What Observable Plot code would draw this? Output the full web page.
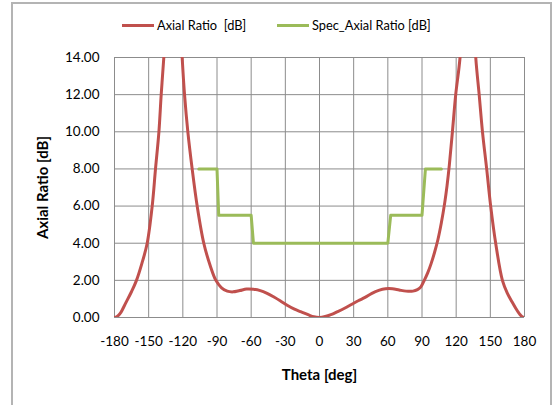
<!DOCTYPE html>
<html><head><meta charset="utf-8">
<script src="https://cdn.jsdelivr.net/npm/d3@7"></script>
<script src="https://cdn.jsdelivr.net/npm/@observablehq/plot@0.6"></script>
<style>
body{margin:0;background:#fff;font-family:Lato,"Open Sans",sans-serif;}
#wrap{position:relative;width:554px;height:405px;overflow:hidden;}
#frame{position:absolute;left:11px;top:2px;width:541px;height:420px;border:2px solid #b4b4b4;box-sizing:border-box;pointer-events:none;}
.leg{position:absolute;top:17px;display:flex;align-items:center;font-size:12.8px;color:#000;white-space:nowrap;}
.sw{display:inline-block;width:32px;height:3px;margin-right:3px;}
</style></head>
<body>
<div id="wrap">
<div id="chart"></div>
<div id="frame"></div>
<div id="leg1" class="leg" style="left:122px"><span class="sw" style="background:#C0504D"></span><span>Axial Ratio&nbsp; [dB]</span></div>
<div id="leg2" class="leg" style="left:277px"><span class="sw" style="background:#9BBB59"></span><span>Spec_Axial Ratio [dB]</span></div>
</div>
<script>
// Axial Ratio [dB] (measured curve)
const arTheta = [-180,-178,-175,-170,-165,-160.7,-156,-151.3,-146.9,-144,-141,-139,-136.7,-133,-128.5,-124,-120.6,-118.5,-115.6,-111.8,-107.4,-101.6,-96,-91,-86,-81,-76,-70,-64,-58,-52,-46,-40,-34,-28,-22,-16,-10,-5,0,5,10,16,22,28,34,40,46,52,58,64,70,76,82,86,89,92,95,98,101,104,107,110,112,114,116.7,119.6,123.4,127,130.3,134,137.2,140.2,143.1,146.8,150.3,154.7,160.6,165,169,172.3,176,178,180];
const arValue = [0,0.04,0.22,0.8,1.4,2,2.9,4,6,8,10,12,14,18,21,18,14,12,10,8,6,4,2.8,2.0,1.6,1.42,1.38,1.45,1.53,1.52,1.45,1.3,1.1,0.88,0.65,0.45,0.3,0.15,0.04,0,0.05,0.15,0.32,0.5,0.7,0.9,1.08,1.3,1.46,1.55,1.55,1.48,1.42,1.42,1.5,1.65,2.0,2.4,2.9,3.5,4.2,5.1,6.2,7.1,8.2,10,12,14,18,21,18,14,12,10,8,6,4,2,1.3,0.85,0.5,0.16,0.04,0];
// Spec_Axial Ratio [dB]
const specTheta = [-106,-90,-88.5,-60,-58,60,62.5,90,93,107];
const specValue = [8,8,5.5,5.5,4,4,5.5,5.5,8,8];
// ticks
const xTicks = [-180,-150,-120,-90,-60,-30,0,30,60,90,120,150,180];
const yTicks = [0,2,4,6,8,10,12,14];

const ar = arTheta.map((t,i)=>({theta:t, v:arValue[i]}));
const spec = specTheta.map((t,i)=>({theta:t, v:specValue[i]}));
const grid = "#8c8c8c";

const chart = Plot.plot({
  width:554, height:405,
  marginLeft:114, marginRight:30, marginTop:57, marginBottom:88,
  style:{fontFamily:"Lato, 'Open Sans', sans-serif", fontSize:"13.5px", color:"#000", background:"transparent"},
  x:{domain:[-180,180], ticks:xTicks, tickSize:0, tickPadding:19, tickFormat:d=>String(d).replace("−","-"),
     label:"Theta [deg]", labelAnchor:"center", labelOffset:62, labelArrow:"none"},
  y:{domain:[0,14], ticks:yTicks, tickSize:0, tickPadding:15, tickFormat:d=>d.toFixed(2),
     label:"Axial Ratio [dB]", labelAnchor:"center", labelOffset:77, labelArrow:"none"},
  marks:[
    Plot.gridX(xTicks,{stroke:grid, strokeOpacity:1, strokeWidth:1}),
    Plot.gridY(yTicks,{stroke:grid, strokeOpacity:1, strokeWidth:1}),
    Plot.line(ar,{x:"theta", y:"v", stroke:"#C0504D", strokeWidth:3, curve:"catmull-rom", clip:true}),
    Plot.line(spec,{x:"theta", y:"v", stroke:"#9BBB59", strokeWidth:3})
  ]
});
chart.querySelectorAll('[aria-label$="axis label"] text, [aria-label$="axis label"]').forEach(el=>{
  el.setAttribute("font-weight","bold"); el.setAttribute("font-size","15px");
});
document.getElementById("chart").appendChild(chart);
</script>
</body></html>
